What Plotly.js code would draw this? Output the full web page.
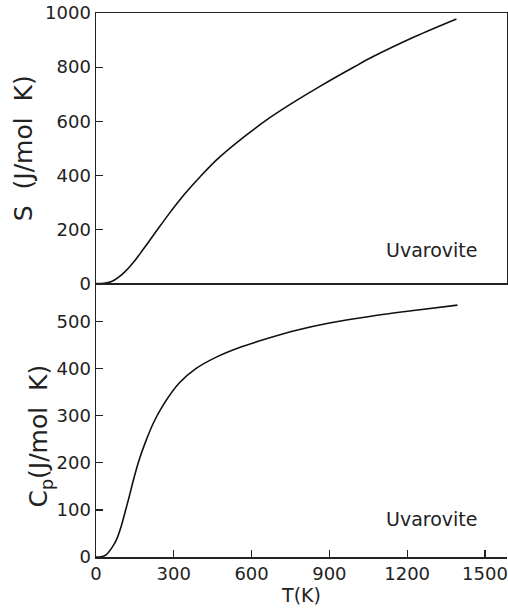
<!DOCTYPE html>
<html>
<head>
<meta charset="utf-8">
<script src="https://cdn.plot.ly/plotly-3.0.1.min.js"></script>
<style>html,body{margin:0;padding:0;background:#fff;}#chart{width:508px;height:608px;}</style>
</head>
<body>
<div id="chart"></div>
<script>
// Entropy S (J/mol K) vs T (K)
var tS = [0, 30, 50, 70, 90, 110, 130, 150, 175, 200, 240, 285, 323, 362, 400, 464, 567, 669, 772, 862, 1000, 1067, 1233, 1390];
var sVals = [0, 1, 4, 12, 25, 42, 62, 85, 117, 150, 203, 262, 309, 353, 393, 456, 539, 612, 676, 728, 803, 838, 914, 978];
// Heat capacity Cp (J/mol K) vs T (K)
var tCp = [0, 20, 40, 64, 80, 96, 112, 128, 145, 165, 190, 220, 256, 320, 385, 462, 564, 667, 769, 900, 1067, 1233, 1394];
var cpVals = [0, 0.5, 5, 22, 38, 63, 95, 128, 165, 204, 243, 283, 320, 369, 400, 424, 447, 465, 481, 497, 512, 524, 535];
var xTicks = [0, 300, 600, 900, 1200, 1500];
var sTicks = [0, 200, 400, 600, 800, 1000];
var cpTicks = [0, 100, 200, 300, 400, 500];
var mineral = "Uvarovite";

var lineStyle = {color: '#111', width: 1.6, shape: 'spline', smoothing: 0.8};
var traces = [
  {x: tS, y: sVals, xaxis: 'x2', yaxis: 'y2', mode: 'lines', line: lineStyle, hoverinfo: 'skip', showlegend: false},
  {x: tCp, y: cpVals, xaxis: 'x', yaxis: 'y', mode: 'lines', line: lineStyle, hoverinfo: 'skip', showlegend: false}
];
var FONT = 'DejaVu Sans, sans-serif';
var axCol = '#222';
var NB = '\u00A0';
var split = 0.5028;
var layout = {
  width: 508, height: 608,
  margin: {l: 96, r: 1, t: 13, b: 51},
  paper_bgcolor: '#fff', plot_bgcolor: '#fff',
  font: {family: FONT, color: '#222', size: 18},
  showlegend: false,
  xaxis: {
    anchor: 'y', domain: [0, 1], range: [0, 1585],
    tickvals: xTicks, ticks: 'inside', ticklen: 7, tickwidth: 1.2, tickcolor: axCol,
    showline: true, linecolor: axCol, linewidth: 1.5, showgrid: false, zeroline: false,
    tickfont: {size: 18, family: FONT, color: '#222'},
    title: {text: 'T(K)', font: {size: 19, family: FONT, color: '#222'}, standoff: 0}
  },
  yaxis: {
    anchor: 'x', domain: [0, split], range: [0, 581],
    tickvals: cpTicks, ticks: 'inside', ticklen: 7, tickwidth: 1.2, tickcolor: axCol,
    showline: true, linecolor: axCol, linewidth: 1.5, showgrid: false, zeroline: false,
    tickfont: {size: 18, family: FONT, color: '#222'},
    title: {text: 'C<sub>p</sub>(J/mol' + NB + NB + 'K)' + NB + NB + NB + NB + '\u200B', font: {size: 25, family: FONT, color: '#222'}, standoff: 0}
  },
  xaxis2: {
    anchor: 'y2', matches: 'x', domain: [0, 1],
    showticklabels: false, ticks: '',
    showline: true, mirror: true, linecolor: axCol, linewidth: 1.5, showgrid: false, zeroline: false
  },
  yaxis2: {
    anchor: 'x2', domain: [split, 1], range: [0, 1000],
    tickvals: sTicks, ticks: 'inside', ticklen: 7, tickwidth: 1.2, tickcolor: axCol,
    showline: true, mirror: true, linecolor: axCol, linewidth: 1.5, showgrid: false, zeroline: false,
    tickfont: {size: 18, family: FONT, color: '#222'},
    title: {text: 'S' + NB + NB + '(J/mol' + NB + NB + 'K)', font: {size: 25, family: FONT, color: '#222'}, standoff: 5}
  },
  annotations: [
    {xref: 'x2', yref: 'y2', x: 1292, y: 122, text: mineral, showarrow: false, font: {size: 19, family: FONT, color: '#222'}},
    {xref: 'x', yref: 'y', x: 1292, y: 81, text: mineral, showarrow: false, font: {size: 19, family: FONT, color: '#222'}}
  ]
};
Plotly.newPlot('chart', traces, layout, {staticPlot: true, displayModeBar: false});
</script>
</body>
</html>
